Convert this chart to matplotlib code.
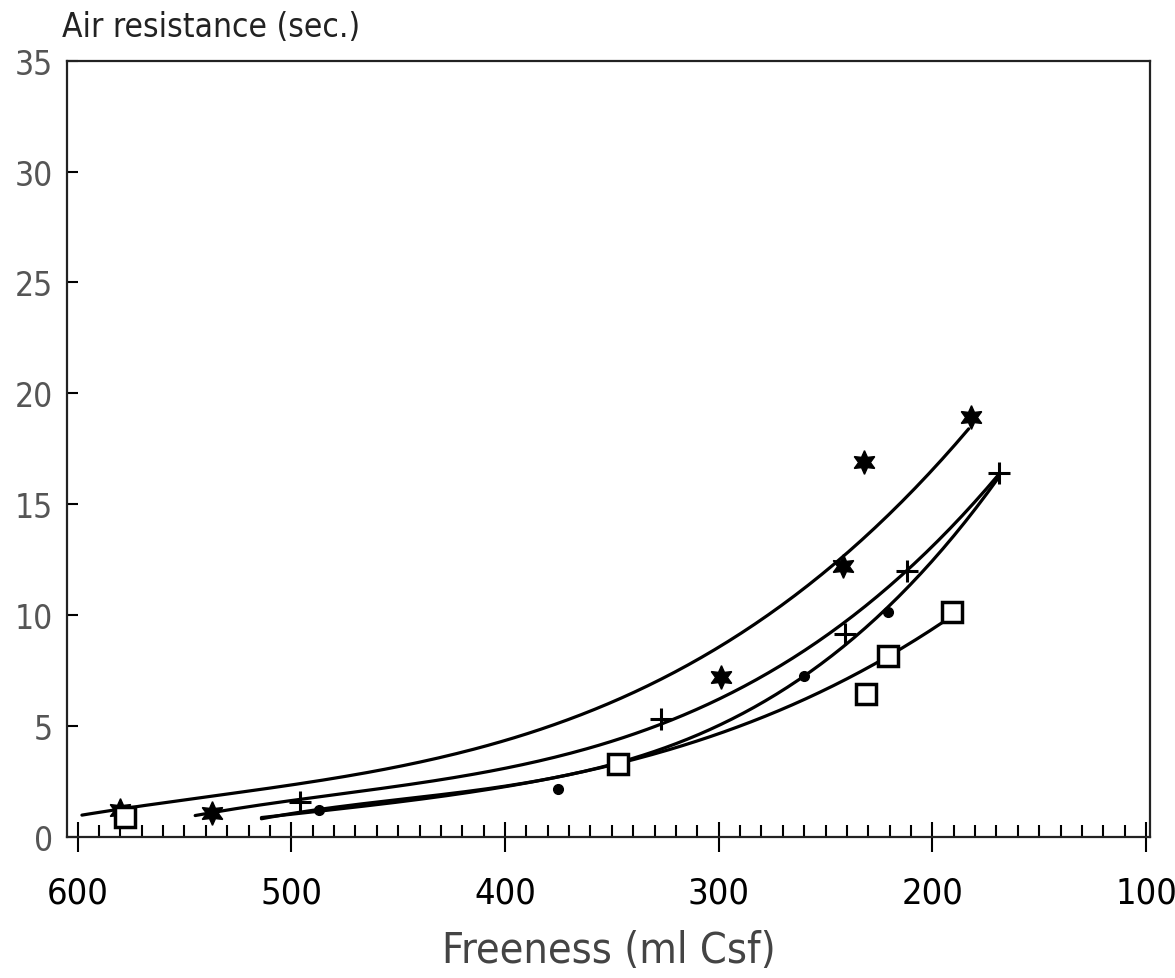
import numpy as np
import matplotlib
matplotlib.use('Agg')
import matplotlib.pyplot as plt
from matplotlib.ticker import MultipleLocator

# Points mesures (freeness en ml Csf, resistance a l'air en sec.)
star_x = [580, 537, 299, 242, 232, 182]
star_y = [1.2, 1.1, 7.2, 12.2, 16.9, 18.95]

plus_x = [496, 327, 241, 212, 169]
plus_y = [1.6, 5.3, 9.15, 12.0, 16.4]

dot_x = [487, 375, 260, 221, 190]
dot_y = [1.2, 2.15, 7.25, 10.15, 9.9]

square_x = [578, 347, 231, 221, 191]
square_y = [0.9, 3.3, 6.45, 8.15, 10.15]

# Courbes de tendance
star_curve_x = [598, 486, 425, 355, 304, 262, 242, 183]
star_curve_y = [1.05, 2.3, 3.8, 6.1, 8.5, 11.0, 12.2, 18.6]

plus_curve_x = [545, 495, 425, 355, 304, 262, 241, 212, 169]
plus_curve_y = [0.95, 1.8, 2.5, 4.2, 6.2, 8.4, 9.4, 12.0, 16.4]

dot_curve_x = [514, 495, 425, 378, 355, 313, 262, 221, 175, 169]
dot_curve_y = [0.8, 1.2, 1.85, 2.7, 3.15, 4.5, 7.3, 10.1, 15.4, 16.3]

square_curve_x = [514, 495, 425, 378, 347, 313, 262, 221, 195]
square_curve_y = [0.8, 1.2, 1.85, 2.6, 3.3, 4.4, 6.0, 8.15, 9.7]

x_ticks = [600, 500, 400, 300, 200, 100]
y_ticks = [0, 5, 10, 15, 20, 25, 30, 35]

cond = dict(family='DejaVu Sans', stretch='condensed')

fig = plt.figure(figsize=(11.75, 9.79), dpi=100)
ax = fig.add_axes([0.057, 0.144, 0.922, 0.793])


def smooth_curve(cx, cy):
    coef = np.polyfit(cx, cy, 3)
    xs = np.linspace(min(cx), max(cx), 200)
    return xs, np.polyval(coef, xs)


for cx, cy in [(star_curve_x, star_curve_y), (plus_curve_x, plus_curve_y),
               (dot_curve_x, dot_curve_y), (square_curve_x, square_curve_y)]:
    xs, ys = smooth_curve(cx, cy)
    ax.plot(xs, ys, color='black', lw=2.3, solid_capstyle='round')

ax.plot(star_x, star_y, linestyle='none', marker=(6, 1, 0), markersize=17,
        color='black')
ax.plot(plus_x, plus_y, linestyle='none', marker='+', markersize=16,
        markeredgewidth=2.2, color='black')
ax.plot(dot_x, dot_y, linestyle='none', marker='o', markersize=7,
        color='black')
ax.plot(square_x, square_y, linestyle='none', marker='s', markersize=14,
        markerfacecolor='white', markeredgecolor='black', markeredgewidth=2.5)

ax.set_xlim(605, 98)
ax.set_ylim(0, 35)

ax.set_xticks(x_ticks)
ax.set_xticklabels([str(v) for v in x_ticks], fontsize=26, **cond)
ax.xaxis.set_minor_locator(MultipleLocator(10))
ax.tick_params(axis='x', which='major', direction='inout', length=22,
               width=1.5, pad=17)
ax.tick_params(axis='x', which='minor', direction='in', length=9, width=1.5)

ax.set_yticks(y_ticks)
ax.set_yticklabels([str(v) for v in y_ticks], fontsize=24, color='#555555',
                   **cond)
ax.tick_params(axis='y', which='major', direction='in', length=8, width=1.5,
               pad=10)

for s in ax.spines.values():
    s.set_linewidth(1.6)
    s.set_color('#222222')

ax.set_xlabel('Freeness (ml Csf)', fontsize=31, color='#444444',
              labelpad=14, **cond)
fig.text(0.053, 0.962, 'Air resistance (sec.)', fontsize=24, color='#222222',
         ha='left', va='baseline', **cond)

fig.savefig('out.png', dpi=100)
